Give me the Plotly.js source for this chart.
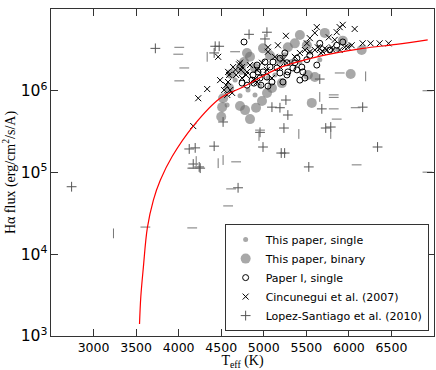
<!DOCTYPE html>
<html>
<head>
<meta charset="utf-8">
<script src="https://cdn.plot.ly/plotly-3.0.1.min.js"></script>
<style>
  html, body { margin: 0; padding: 0; background: #fff; }
  #chart { width: 436px; height: 370px; }
</style>
</head>
<body>
<div id="chart"></div>
<script>
// This paper, single
const singleT = [4897, 4815, 4956, 5131, 5424, 5658, 5869, 5248, 4663, 4721, 5330, 5541, 5049, 4569, 6009];
const singleF = [8.9e5, 1.02e6, 1.15e6, 1.56e6, 2.24e6, 2.4e6, 3.2e6, 2.75e6, 1.35e6, 8.7e5, 2.24e6, 2.95e6, 1.44e6, 6.7e5, 3.6e6];

// This paper, binary
const binaryT = [4500, 4511, 4721, 4780, 4838, 4909, 4979, 5038, 4522, 4593, 4616, 4768, 4803, 4838, 4991, 5283,
                 5365, 5424, 5506, 5717, 5928, 6150, 6021, 5564, 5518, 5600, 5213, 5096, 4733, 4897, 5073, 5190];
const binaryF = [4.8e5, 6.3e5, 6.5e5, 5.8e5, 4.5e5, 6.2e5, 7.5e5, 9.4e5, 8.1e5, 1.08e6, 1.6e6, 2.25e6, 2.9e6, 2.6e6, 3.3e6, 3.4e6,
                 3.8e6, 4.8e6, 3.6e6, 5.1e6, 4.1e6, 3.15e6, 1.6e6, 7.1e5, 1.56e6, 1.47e6, 1.24e6, 1.08e6, 1.8e6, 1.9e6, 2.7e6, 2.4e6];

// Paper I, single
const paperT = [4768, 5342, 5389, 5447, 5459, 5365, 5272, 5190, 5037, 4932, 4956, 4862, 5073, 5155, 4920, 5014,
                5283, 5506, 5389, 5272, 5541, 5623, 5775, 5857, 5928, 5658, 5225, 5096, 4803, 4745, 4885, 4967,
                5049, 4874, 4991, 5108, 5190, 5248, 5424, 5483];
const paperF = [3.95e6, 1.9e6, 1.8e6, 1.95e6, 1.7e6, 2.2e6, 1.56e6, 1.65e6, 1.47e6, 1.7e6, 1.43e6, 1.35e6, 1.95e6, 1.9e6, 2.06e6, 2.25e6,
                1.7e6, 2.4e6, 2.5e6, 2.2e6, 2.7e6, 2.06e6, 3.15e6, 3.6e6, 3.95e6, 3.8e6, 1.28e6, 1.28e6, 1.17e6, 1.24e6, 1.24e6, 1.17e6,
                1.14e6, 1.56e6, 1.7e6, 2.25e6, 2.5e6, 2.9e6, 1.35e6, 1.43e6];

// Cincunegui et al. (2007)
const cincT = [4335, 4487, 4230, 4171, 4464, 5260, 5166, 5049, 4979, 4721, 4667, 4593, 4803, 4745, 4920, 5623,
               5600, 5541, 5506, 5658, 5740, 5799, 5834, 5857, 5892, 5928, 6068, 6162, 6255, 6361, 6466, 5986,
               6033, 5764, 5424, 5365, 5037, 5096, 4885, 4792, 4745, 4675, 5541, 5693, 5717, 5810, 5892, 5951,
               5049, 4920, 4640, 4605, 4570, 4628, 4838, 5190, 5272, 5600, 5483, 4557, 4534, 4580, 5635, 5670,
               4581, 5131, 5225, 4710, 4733];
const cincF = [1.05e6, 1.35e6, 8.1e5, 3.7e5, 2.6e6, 4.7e6, 3.6e6, 3.0e6, 2.2e6, 2.2e6, 1.8e6, 1.56e6, 1.7e6, 1.95e6, 1.8e6, 6.0e6,
               5.1e6, 4.4e6, 3.8e6, 3.3e6, 3.15e6, 3.4e6, 4.2e6, 5.2e6, 6.0e6, 6.4e6, 5.7e6, 3.8e6, 3.8e6, 3.8e6, 3.8e6, 3.4e6,
               3.6e6, 4.5e6, 2.9e6, 2.6e6, 1.8e6, 1.43e6, 1.35e6, 1.56e6, 1.43e6, 1.56e6, 3.0e6, 3.0e6, 3.3e6, 3.15e6, 3.15e6, 3.4e6,
               3.4e6, 1.28e6, 1.95e6, 1.02e6, 8.9e5, 9.4e5, 2.06e6, 1.95e6, 2.2e6, 3.15e6, 3.15e6, 1.17e6, 1.02e6, 1.28e6, 3.4e6, 2.9e6,
               1.7e6, 2.6e6, 2.4e6, 2.1e6, 1.8e6];

// Lopez-Santiago et al. (2010)
const lopezT = [3726, 4429, 4476, 4417, 4124, 4194, 4417, 4171, 4241, 2742, 4827, 5037, 5014, 5658, 4522, 5260,
                5096, 5190, 5283, 5237, 4956, 4991, 5205, 5245, 5682, 6162, 5728, 5787, 6337, 5529, 4253, 4698];
const lopezF = [3.3e6, 3.5e6, 3.5e6, 2.9e6, 1.94e5, 2.0e5, 2.1e5, 1.27e5, 1.17e5, 6.7e4, 4.9e6, 5.2e6, 4.3e6, 1.39e6, 4.15e5, 7.7e5,
                6.3e5, 6.2e5, 5.05e5, 3.5e5, 3.1e5, 2.05e5, 1.73e5, 1.73e5, 6.0e5, 6.3e5, 3.5e5, 3.6e5, 2.05e5, 1.17e5, 1.13e5, 6.5e4];

// half-drawn marks (dashes and bars) of the same sample
const dashT = [4007, 3995, 4066, 4007, 4663, 4159, 3609, 4171, 4675, 4616, 4581, 6091, 6923, 5892, 5822, 5822,
               5822, 6080, 5857, 6923, 4956, 4159];
const dashF = [3.4e6, 2.8e6, 1.9e6, 1.32e6, 3.0e6, 2.1e4, 2.15e4, 1.13e5, 1.35e5, 6.3e4, 3.9e4, 1.24e5, 1.01e5, 1.65e6, 8.9e5, 8.3e5,
               6.0e5, 6.2e5, 4.5e5, 1.0e6, 3.3e5, 1.13e5];
const barT = [4335, 4464, 4522, 4206, 3234, 6197, 5658, 5787, 5412, 4944];
const barF = [2.6e6, 1.3e5, 1.42e5, 1.38e5, 1.8e4, 1.5e6, 8.4e5, 2.96e5, 2.96e5, 2.8e5];

// model curve
const modelT = [3540, 3555, 3585, 3632, 3703, 3785, 3925, 4171, 4487, 4757, 5170, 5561, 5775, 6165, 6556, 6926];
const modelF = [1.4e3, 3.0e3, 6.9e3, 2.1e4, 4.6e4, 8.1e4, 1.58e5, 3.7e5, 8.1e5, 1.11e6, 1.88e6, 2.5e6, 2.8e6, 3.3e6, 3.7e6, 4.2e6];

const xTicks = [3000, 3500, 4000, 4500, 5000, 5500, 6000, 6500];
const decades = [1e3, 1e4, 1e5, 1e6];
const minorDigits = [2, 3, 4, 5, 6, 7, 8, 9];

const GRAY = 'rgba(110,110,110,0.6)';
const AXIS = '#333';

// minor log ticks (2..9 per decade) on both y sides, as short shapes
const plotW = 436 - 51 - 2;
const minorLen = 4 / plotW;
const shapes = [];
decades.forEach(d => minorDigits.forEach(m => {
  const v = Math.log10(m * d);
  shapes.push({ type: 'line', xref: 'paper', yref: 'y', x0: 0, x1: minorLen, y0: v, y1: v, line: { color: AXIS, width: 1 } });
  shapes.push({ type: 'line', xref: 'paper', yref: 'y', x0: 1 - minorLen, x1: 1, y0: v, y1: v, line: { color: AXIS, width: 1 } });
}));

const traces = [
  {
    x: singleT, y: singleF, type: 'scatter', mode: 'markers', name: 'This paper, single',
    marker: { symbol: 'circle', size: 5, color: GRAY, line: { width: 0 } }
  },
  {
    x: binaryT, y: binaryF, type: 'scatter', mode: 'markers', name: 'This paper, binary',
    marker: { symbol: 'circle', size: 10, color: GRAY, line: { width: 0 } }
  },
  {
    x: paperT, y: paperF, type: 'scatter', mode: 'markers', name: 'Paper I, single',
    marker: { symbol: 'circle-open', size: 6, color: 'black', line: { width: 1 } }
  },
  {
    x: cincT, y: cincF, type: 'scatter', mode: 'markers', name: 'Cincunegui et al. (2007)',
    marker: { symbol: 'x-thin-open', size: 6, color: 'black', line: { width: 1, color: 'black' } }
  },
  {
    x: lopezT, y: lopezF, type: 'scatter', mode: 'markers', name: 'Lopez-Santiago et al. (2010)',
    marker: { symbol: 'cross-thin-open', size: 7, color: '#555', line: { width: 1, color: '#555' } }
  },
  {
    x: dashT, y: dashF, type: 'scatter', mode: 'markers', showlegend: false,
    marker: { symbol: 'line-ew-open', size: 7, color: '#777', line: { width: 1, color: '#777' } }
  },
  {
    x: barT, y: barF, type: 'scatter', mode: 'markers', showlegend: false,
    marker: { symbol: 'line-ns-open', size: 7, color: '#777', line: { width: 1, color: '#777' } }
  },
  {
    x: modelT, y: modelF, type: 'scatter', mode: 'lines', showlegend: false,
    line: { color: 'red', width: 1.2, shape: 'spline' }
  }
];

const layout = {
  width: 436,
  height: 370,
  margin: { l: 51, r: 2, t: 9, b: 34 },
  paper_bgcolor: 'white',
  plot_bgcolor: 'white',
  showlegend: true,
  shapes: shapes,
  legend: {
    x: 0.986, y: 0.015, xanchor: 'right', yanchor: 'bottom',
    bgcolor: 'white', bordercolor: AXIS, borderwidth: 1,
    tracegroupgap: 0,
    font: { family: 'DejaVu Sans', size: 11, color: 'black' }
  },
  xaxis: {
    range: [2500, 7000],
    tickvals: xTicks,
    ticks: 'inside', ticklen: 7, tickcolor: AXIS,
    showline: true, linecolor: AXIS, linewidth: 1, mirror: 'ticks',
    showgrid: false, zeroline: false,
    tickfont: { family: 'DejaVu Sans', size: 12.5, color: 'black' },
    title: { text: 'T<sub>eff</sub> (K)', font: { family: 'Liberation Serif', size: 14, color: 'black' }, standoff: 4 },
    automargin: false
  },
  yaxis: {
    type: 'log',
    range: [3, 7],
    dtick: 1,
    exponentformat: 'power',
    ticks: 'inside', ticklen: 7, tickcolor: AXIS,
    showline: true, linecolor: AXIS, linewidth: 1, mirror: 'ticks',
    showgrid: false, zeroline: false,
    tickfont: { family: 'DejaVu Sans', size: 12.5, color: 'black' },
    title: { text: 'Hα flux (erg/cm<sup>2</sup>/s/A)', font: { family: 'Liberation Serif', size: 14, color: 'black' }, standoff: 4 },
    automargin: false
  }
};

Plotly.newPlot('chart', traces, layout, { displayModeBar: false, staticPlot: true });
</script>
</body>
</html>
